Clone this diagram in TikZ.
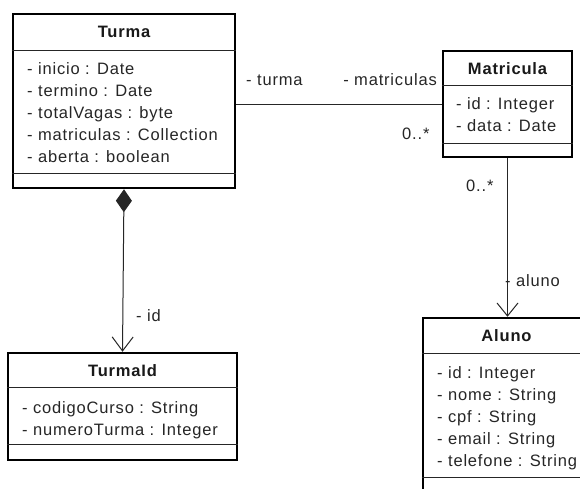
\documentclass[tikz,border=0pt]{standalone}
\usepackage{fontspec}
\setmainfont{Liberation Sans}[LetterSpace=5]
\usetikzlibrary{arrows.meta}
\begin{document}
\begin{tikzpicture}[x=1pt,y=-1pt,
  classbox/.style={draw=black,line width=2.5pt,fill=white,rectangle,inner sep=0pt},
  divider/.style={line width=1pt,draw=black!85},
  header/.style={font=\fontsize{16.5}{19}\selectfont\bfseries,text=black!90,inner sep=0pt},
  attr/.style={font=\fontsize{16.5}{19}\selectfont,text=black!85,inner sep=0pt,anchor=base west},
  role/.style={font=\fontsize{16.5}{19}\selectfont,text=black!85,inner sep=0pt},
  assoc/.style={line width=1pt,draw=black!85},
]
\clip (0,0) rectangle (580,488);
\fill[white] (0,0) rectangle (580,488);

% class boxes
\node[classbox,minimum width=222pt,minimum height=174pt] (turma) at (124,101) {};
\node[classbox,minimum width=129pt,minimum height=106pt] (matricula) at (507.5,104) {};
\node[classbox,minimum width=229pt,minimum height=107pt] (turmaid) at (122.5,406.5) {};
\node[classbox,minimum width=167pt,minimum height=190pt] (aluno) at (506.5,413) {};

% compartment dividers
\draw[divider] (turma.west |- 0,50) -- (turma.east |- 0,50);
\draw[divider] (turma.west |- 0,173) -- (turma.east |- 0,173);
\draw[divider] (matricula.west |- 0,85) -- (matricula.east |- 0,85);
\draw[divider] (matricula.west |- 0,143) -- (matricula.east |- 0,143);
\draw[divider] (turmaid.west |- 0,387) -- (turmaid.east |- 0,387);
\draw[divider] (turmaid.west |- 0,444) -- (turmaid.east |- 0,444);
\draw[divider] (aluno.west |- 0,353) -- (aluno.east |- 0,353);
\draw[divider] (aluno.west |- 0,477) -- (aluno.east |- 0,477);

% class names
\node[header] (turma-name) at (124,32) {Turma};
\node[header] (matricula-name) at (507.5,69) {Matricula};
\node[header] (turmaid-name) at (122.5,371) {TurmaId};
\node[header] (aluno-name) at (506.5,336) {Aluno};

% attributes
\foreach \t [count=\i from 0] in {{- inicio : Date},{- termino : Date},{- totalVagas : byte},{- matriculas : Collection},{- aberta : boolean}}
  \node[attr] (turma-a\i) at (27,74+22.2*\i) {\t};
\foreach \t [count=\i from 0] in {{- id : Integer},{- data : Date}}
  \node[attr] (matricula-a\i) at (456,109+22.2*\i) {\t};
\foreach \t [count=\i from 0] in {{- codigoCurso : String},{- numeroTurma : Integer}}
  \node[attr] (turmaid-a\i) at (22,413+22.2*\i) {\t};
\foreach \t [count=\i from 0] in {{- id : Integer},{- nome : String},{- cpf : String},{- email : String},{- telefone : String}}
  \node[attr] (aluno-a\i) at (437,378+22*\i) {\t};

% associations
\draw[assoc] (matricula.west -| turma.east) -- (matricula.west);
\draw[assoc,-{Straight Barb[length=13pt,width=21pt]}] (matricula.south) -- (matricula.south |- aluno.north);
\draw[assoc,{Diamond[length=23pt,width=16pt]}-{Straight Barb[length=14pt,width=21pt]}] (turma.south) -- (turmaid.north);

% role names and multiplicities
\node[role,anchor=base west] (r-turma) at (246,85) {- turma};
\node[role,anchor=base east] (r-matriculas) at (437,85) {- matriculas};
\node[role,anchor=base west] (m-matriculas) at (402,139) {0..*};
\node[role,anchor=base west] (m-aluno) at (466,191) {0..*};
\node[role,anchor=base west] (r-aluno) at (505,286) {- aluno};
\node[role,anchor=base west] (r-id) at (136,321) {- id};
\end{tikzpicture}
\end{document}
